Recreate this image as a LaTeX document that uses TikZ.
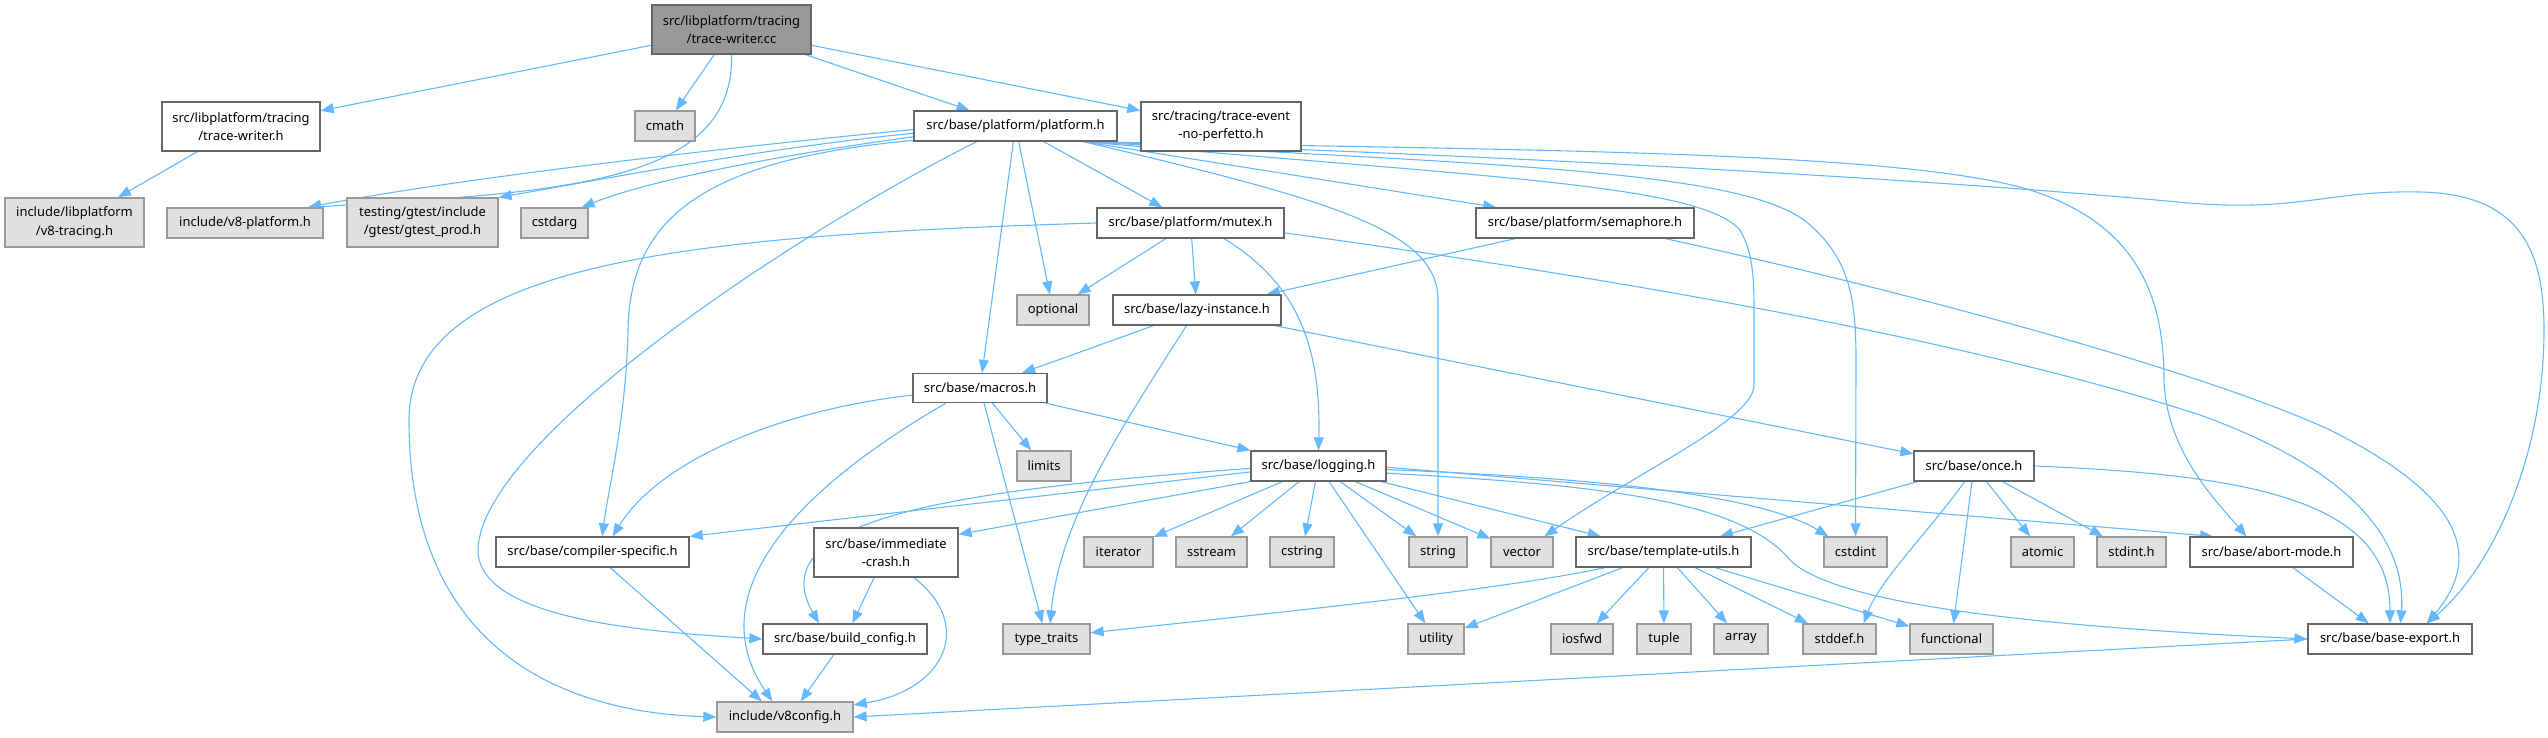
\documentclass[tikz,border=0pt]{standalone}
\usepackage{fontspec}
\setmainfont{Noto Sans}
\usepackage{tikz}
\usetikzlibrary{arrows.meta, backgrounds}

\definecolor{edgeblue}{HTML}{63B8FF}
\definecolor{nodeline}{HTML}{666666}
\definecolor{sysline}{HTML}{999999}
\definecolor{sysfill}{HTML}{E0E0E0}
\definecolor{rootfill}{HTML}{999999}

\begin{document}
\begin{tikzpicture}[x=1bp, y=-1bp,
    file/.style={draw=nodeline, fill=white, line width=1.3bp, inner sep=0pt,
        minimum height=30bp, align=center, font=\fontsize{13}{18.3}\selectfont},
    sys/.style={file, draw=sysline, fill=sysfill},
    rootfile/.style={file, fill=rootfill},
    two/.style={minimum height=49bp},
    incl/.style={draw=edgeblue, line width=1.1bp, -{Triangle[length=13bp,width=10bp]}}]
    \useasboundingbox (0,0) rectangle (2548,738);

    % Top rows
    \node[rootfile, two, minimum width=159bp] (root) at (731.5,29.5) {src/libplatform/tracing\\/trace-writer.cc};
    \node[file, two, minimum width=158bp] (twh) at (241,126.5) {src/libplatform/tracing\\/trace-writer.h};
    \node[sys, minimum width=60bp] (cmath) at (665,126) {cmath};
    \node[file, minimum width=203bp] (platform) at (1015.5,126) {src/base/platform/platform.h};
    \node[file, two, minimum width=160bp] (tevent) at (1221,126.5) {src/tracing/trace-event\\-no-perfetto.h};

    \node[sys, two, minimum width=139bp] (v8tracing) at (74.5,222.5) {include/libplatform\\/v8-tracing.h};
    \node[sys, minimum width=156bp] (v8platform) at (245,223) {include/v8-platform.h};
    \node[sys, two, minimum width=151bp] (gtestprod) at (422.5,222.5) {testing/gtest/include\\/gtest/gtest\_prod.h};
    \node[sys, minimum width=67bp] (cstdarg) at (554.5,223) {cstdarg};
    \node[file, minimum width=187bp] (mutex) at (1190.5,223) {src/base/platform/mutex.h};
    \node[file, minimum width=218bp] (semaphore) at (1585,223) {src/base/platform/semaphore.h};

    \node[sys, minimum width=72bp] (optional) at (1053,310) {optional};
    \node[file, minimum width=168bp] (lazy) at (1197,310) {src/base/lazy-instance.h};
    \node[file, minimum width=134bp, minimum height=29bp] (macros) at (980,388) {src/base/macros.h};

    \node[sys, minimum width=54bp] (limits) at (1044,466) {limits};
    \node[file, minimum width=135bp] (logging) at (1318.5,466) {src/base/logging.h};
    \node[file, minimum width=120bp] (once) at (1974,466) {src/base/once.h};

    % Middle row
    \node[file, minimum width=193bp] (compspec) at (592.5,552) {src/base/compiler-specific.h};
    \node[file, two, minimum width=144bp] (immcrash) at (886,552.5) {src/base/immediate\\-crash.h};
    \node[sys, minimum width=69bp] (iterator) at (1118.5,552) {iterator};
    \node[sys, minimum width=71bp] (sstream) at (1211.5,552) {sstream};
    \node[sys, minimum width=64bp] (cstring) at (1302,552) {cstring};
    \node[sys, minimum width=58bp] (string) at (1438,552) {string};
    \node[sys, minimum width=62bp] (vector) at (1522,552) {vector};
    \node[file, minimum width=175bp] (tmplutils) at (1663.5,552) {src/base/template-utils.h};
    \node[sys, minimum width=63bp] (cstdint) at (1855.5,552) {cstdint};
    \node[sys, minimum width=63bp] (atomic) at (2042.5,552) {atomic};
    \node[sys, minimum width=69bp] (stdinth) at (2131.5,552) {stdint.h};
    \node[file, minimum width=163bp] (abortmode) at (2271.5,552) {src/base/abort-mode.h};

    % Bottom rows
    \node[file, minimum width=164bp] (buildcfg) at (845,639) {src/base/build\_config.h};
    \node[sys, minimum width=87bp] (typetraits) at (1046.5,639) {type\_traits};
    \node[sys, minimum width=56bp] (utility) at (1436,639) {utility};
    \node[sys, minimum width=62bp] (iosfwd) at (1582,639) {iosfwd};
    \node[sys, minimum width=54bp] (tuple) at (1664,639) {tuple};
    \node[sys, minimum width=54bp] (array) at (1741,639) {array};
    \node[sys, minimum width=73bp] (stddefh) at (1839.5,639) {stddef.h};
    \node[sys, minimum width=83bp] (functional) at (1951.5,639) {functional};
    \node[file, minimum width=164bp] (baseexport) at (2390,639) {src/base/base-export.h};
    \node[sys, minimum width=136bp] (v8config) at (785,717) {include/v8config.h};

    \begin{scope}[on background layer]
    % trace-writer.cc
    \draw[incl] (root) -- (twh);
    \draw[incl] (root) -- (cmath);
    \draw[incl] (root) -- (platform);
    \draw[incl] (root) -- (tevent);
    \draw[incl] (root.south) .. controls (735,185) and (560,192) .. (v8platform.14);
    \draw[incl] (twh) -- (v8tracing);

    % platform.h
    \draw[incl] (platform.182) .. controls (700,150) and (450,180) .. (v8platform.14);
    \draw[incl] (platform.184) .. controls (750,150) and (600,180) .. (gtestprod.north east);
    \draw[incl] (platform.186) .. controls (780,155) and (650,180) .. (cstdarg.30);
    \draw[incl] (platform.188) .. controls (700,160) and (630,220) .. (628,330)
        .. controls (626,420) and (608,490) .. (compspec.58);
    \draw[incl] (platform.-158) .. controls (800,230) and (480,440) .. (478,550)
        .. controls (478,620) and (650,632) .. (buildcfg.west);
    \draw[incl] (platform) -- (macros);
    \draw[incl] (platform) -- (optional);
    \draw[incl] (platform) -- (mutex);
    \draw[incl] (platform.-13) -- (semaphore.170);
    \draw[incl] (platform.-13) .. controls (1330,200) and (1438,230) .. (1438,300) -- (string.north);
    \draw[incl] (platform.-13) .. controls (1500,178) and (1700,185) .. (1740,230)
        .. controls (1754,255) and (1754,280) .. (1754,320) -- (1754,385)
        .. controls (1754,420) and (1640,470) .. (vector.35);
    \draw[incl] (platform.-13) .. controls (1500,165) and (1750,170) .. (1810,225)
        .. controls (1850,260) and (1856,300) .. (1856,360) -- (cstdint.north);
    \draw[incl] (platform.-13) .. controls (1500,150) and (1900,150) .. (2030,190)
        .. controls (2140,225) and (2164,300) .. (2164,380)
        .. controls (2166,450) and (2215,500) .. (abortmode.148);
    \draw[incl] (platform.-13) .. controls (1500,155) and (1950,180) .. (2188,203)
        .. controls (2300,212) and (2330,190) .. (2420,192)
        .. controls (2520,194) and (2544,250) .. (2544,330)
        .. controls (2544,460) and (2490,570) .. (baseexport.23);

    % mutex.h and semaphore.h
    \draw[incl] (mutex.west) .. controls (700,235) and (409,260) .. (409,420)
        .. controls (409,640) and (550,712) .. (v8config.west);
    \draw[incl] (mutex) -- (optional);
    \draw[incl] (mutex) -- (lazy);
    \draw[incl] (mutex.-25) .. controls (1300,285) and (1321,350) .. (logging.north);
    \draw[incl] (mutex.-6) .. controls (1700,290) and (2000,350) .. (2200,415)
        .. controls (2380,480) and (2405,560) .. (baseexport.56);
    \draw[incl] (semaphore) -- (lazy);
    \draw[incl] (semaphore.-11) .. controls (1900,290) and (2200,370) .. (2330,430)
        .. controls (2470,500) and (2480,560) .. (baseexport.23);

    % lazy-instance.h and macros.h
    \draw[incl] (lazy) -- (macros);
    \draw[incl] (lazy.-124) .. controls (1120,430) and (1060,520) .. (typetraits.77);
    \draw[incl] (lazy) -- (once);
    \draw[incl] (macros.186) .. controls (780,410) and (660,460) .. (compspec.38);
    \draw[incl] (macros.-156) .. controls (830,470) and (690,580) .. (v8config.129);
    \draw[incl] (macros) -- (limits);
    \draw[incl] (macros) -- (typetraits);
    \draw[incl] (macros) -- (logging);

    % logging.h
    \draw[incl] (logging.185) -- (compspec.north east);
    \draw[incl] (logging.182) .. controls (950,490) and (760,520) .. (buildcfg.149);
    \draw[incl] (logging.south west) -- (immcrash.14);
    \draw[incl] (logging) -- (iterator);
    \draw[incl] (logging) -- (sstream);
    \draw[incl] (logging) -- (cstring);
    \draw[incl] (logging) -- (string);
    \draw[incl] (logging) -- (utility);
    \draw[incl] (logging) -- (vector);
    \draw[incl] (logging) -- (tmplutils);
    \draw[incl] (logging.-1) -- (abortmode.165);
    \draw[incl] (logging.-3) .. controls (1600,478) and (1760,495) .. (cstdint.150);
    \draw[incl] (logging.-6) .. controls (1600,485) and (1740,500) .. (1790,560)
        .. controls (1830,600) and (2000,625) .. (baseexport.west);

    % once.h
    \draw[incl] (once) -- (tmplutils);
    \draw[incl] (once.-121) .. controls (1930,530) and (1880,580) .. (stddefh.33);
    \draw[incl] (once) -- (functional);
    \draw[incl] (once) -- (atomic);
    \draw[incl] (once) -- (stdinth);
    \draw[incl] (once.east) .. controls (2250,475) and (2390,500) .. (baseexport.north);

    % template-utils.h
    \draw[incl] (tmplutils.-165) .. controls (1500,590) and (1300,610) .. (typetraits.8);
    \draw[incl] (tmplutils) -- (utility);
    \draw[incl] (tmplutils) -- (iosfwd);
    \draw[incl] (tmplutils) -- (tuple);
    \draw[incl] (tmplutils) -- (array);
    \draw[incl] (tmplutils) -- (stddefh);
    \draw[incl] (tmplutils) -- (functional);

    % bottom
    \draw[incl] (abortmode) -- (baseexport);
    \draw[incl] (compspec) -- (v8config.146);
    \draw[incl] (immcrash) -- (buildcfg);
    \draw[incl] (immcrash.-42) .. controls (975,625) and (945,690) .. (v8config.10);
    \draw[incl] (buildcfg) -- (v8config.45);
    \draw[incl] (baseexport.west) -- (v8config.east);
    \end{scope}
\end{tikzpicture}
\end{document}
